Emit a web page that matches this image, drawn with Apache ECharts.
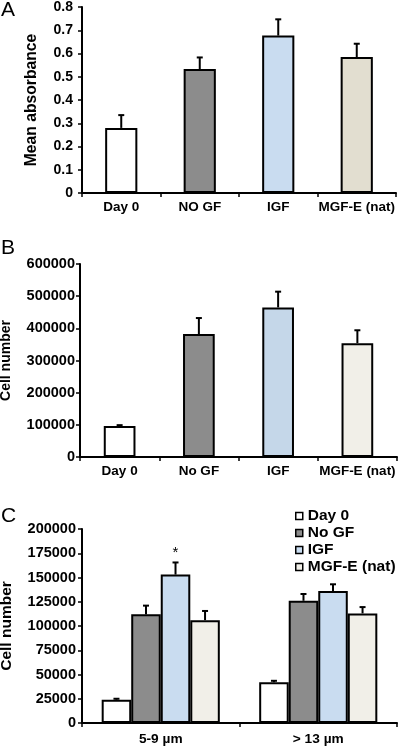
<!DOCTYPE html>
<html>
<head>
<meta charset="utf-8">
<script src="https://cdn.jsdelivr.net/npm/echarts@6/dist/echarts.min.js"></script>
<style>html,body{margin:0;padding:0;background:#fff}#c{width:400px;height:746px}</style>
</head>
<body>
<div id="c"></div>
<script>
// ---- Panel A data ----
const categoriesA = ['Day 0', 'NO GF', 'IGF', 'MGF-E (nat)'];
const absorbance = [0.28, 0.533, 0.677, 0.585];
const absorbanceErr = [0.055, 0.05, 0.07, 0.057];
const colorsA = ['#ffffff', '#8c8c8c', '#c9dcf0', '#e2ded0'];

// ---- Panel B data ----
const categoriesB = ['Day 0', 'No GF', 'IGF', 'MGF-E (nat)'];
const cellsB = [96000, 382000, 465000, 354000];
const cellsBErr = [3000, 50000, 49000, 40000];
const colorsB = ['#ffffff', '#8c8c8c', '#c5d7e9', '#f1efe8'];

// ---- Panel C data ----
const sizeCats = ['5-9 µm', '> 13 µm'];
const cSeriesNames = ['Day 0', 'No GF', 'IGF', 'MGF-E (nat)'];
const cDay0 = [24000, 42000];
const cDay0Err = [1000, 1500];
const cNoGF = [112000, 126000];
const cNoGFErr = [9000, 7000];
const cIGF = [153000, 136000];
const cIGFErr = [12500, 7000];
const cMGF = [106000, 113000];
const cMGFErr = [9500, 6500];
const cSig = [['', ''], ['', ''], ['*', ''], ['', '']];
const colorsC = ['#ffffff', '#8c8c8c', '#c9dcf0', '#f1efe8'];

const cValues = [cDay0, cNoGF, cIGF, cMGF];
const cErrs = [cDay0Err, cNoGFErr, cIGFErr, cMGFErr];

const FONT = 'Liberation Sans, Arial, sans-serif';
const GAP_C = 0.25;

function errRender(params, api) {
  const i = api.value(0), v = api.value(1), e = api.value(2);
  const p0 = api.coord([i, v]);
  const p1 = api.coord([i, v + e]);
  const cap = 3;
  return {
    type: 'group',
    children: [
      { type: 'line', shape: { x1: p0[0], y1: p0[1], x2: p1[0], y2: p1[1] }, style: { stroke: '#000', lineWidth: 2 } },
      { type: 'line', shape: { x1: p1[0] - cap, y1: p1[1], x2: p1[0] + cap, y2: p1[1] }, style: { stroke: '#000', lineWidth: 2 } }
    ]
  };
}

function errRenderGrouped(k) {
  return function (params, api) {
    const i = api.value(0), v = api.value(1), e = api.value(2);
    const band = api.size([1, 0])[0];
    const total = band * (1 - GAP_C);
    const w = total / 4;
    const p0 = api.coord([i, v]);
    const p1 = api.coord([i, v + e]);
    const x = p0[0] - total / 2 + w * (k + 0.5);
    const cap = 3;
    const children = [
      { type: 'line', shape: { x1: x, y1: p0[1], x2: x, y2: p1[1] }, style: { stroke: '#000', lineWidth: 2 } },
      { type: 'line', shape: { x1: x - cap, y1: p1[1], x2: x + cap, y2: p1[1] }, style: { stroke: '#000', lineWidth: 2 } }
    ];
    const sig = cSig[k][i];
    if (sig) {
      children.push({ type: 'text', x: x, y: p1[1] - 2, style: { text: sig, fill: '#000', font: '15px ' + FONT, textAlign: 'center', textVerticalAlign: 'bottom' } });
    }
    return { type: 'group', children: children };
  };
}

const axisLineStyle = { show: true, lineStyle: { color: '#000', width: 2 } };
const tickStyle = { show: true, length: 4, lineStyle: { color: '#000', width: 1.5 } };

function xAxis(gridIndex, data, margin, size) {
  return {
    type: 'category', gridIndex: gridIndex, data: data,
    axisLine: axisLineStyle, axisTick: tickStyle,
    axisLabel: { color: '#000', fontFamily: FONT, fontWeight: 'bold', fontSize: size, margin: margin, interval: 0 }
  };
}
function yAxis(gridIndex, max, interval, name, nameSize, nameGap, labelSize, margin) {
  return {
    type: 'value', gridIndex: gridIndex, min: 0, max: max, interval: interval,
    name: name, nameLocation: 'middle', nameGap: nameGap,
    nameTextStyle: { color: '#000', fontFamily: FONT, fontWeight: 'bold', fontSize: nameSize },
    axisLine: axisLineStyle, axisTick: tickStyle, splitLine: { show: false },
    axisLabel: { color: '#000', fontFamily: FONT, fontWeight: 'bold', fontSize: labelSize, margin: margin, formatter: v => String(v) }
  };
}

const barBorder = { borderColor: '#000', borderWidth: 2 };

const series = [
  {
    name: 'absorbance', type: 'bar', xAxisIndex: 0, yAxisIndex: 0, barWidth: '41%',
    data: absorbance.map((v, i) => ({ value: v, itemStyle: Object.assign({ color: colorsA[i] }, barBorder) }))
  },
  {
    name: 'absorbanceErr', type: 'custom', xAxisIndex: 0, yAxisIndex: 0, z: 5,
    renderItem: errRender, encode: { x: 0, y: 1 },
    data: absorbance.map((v, i) => [i, v, absorbanceErr[i]])
  },
  {
    name: 'cellsB', type: 'bar', xAxisIndex: 1, yAxisIndex: 1, barWidth: '40%',
    data: cellsB.map((v, i) => ({ value: v, itemStyle: Object.assign({ color: colorsB[i] }, barBorder) }))
  },
  {
    name: 'cellsBErr', type: 'custom', xAxisIndex: 1, yAxisIndex: 1, z: 5,
    renderItem: errRender, encode: { x: 0, y: 1 },
    data: cellsB.map((v, i) => [i, v, cellsBErr[i]])
  }
];

cSeriesNames.forEach((nm, k) => {
  series.push({
    name: nm, type: 'bar', xAxisIndex: 2, yAxisIndex: 2,
    barGap: '0%', barCategoryGap: (GAP_C * 100) + '%',
    itemStyle: Object.assign({ color: colorsC[k] }, barBorder),
    data: cValues[k]
  });
});
cSeriesNames.forEach((nm, k) => {
  series.push({
    name: nm + ' err', type: 'custom', xAxisIndex: 2, yAxisIndex: 2, z: 5,
    renderItem: errRenderGrouped(k), encode: { x: 0, y: 1 },
    data: cValues[k].map((v, i) => [i, v, cErrs[k][i]])
  });
});

const option = {
  backgroundColor: '#fff',
  animation: false,
  title: [
    { text: 'A', left: 1, top: 0, padding: 0, textStyle: { fontFamily: FONT, fontWeight: 'normal', fontSize: 21, color: '#000' } },
    { text: 'B', left: 1, top: 238, padding: 0, textStyle: { fontFamily: FONT, fontWeight: 'normal', fontSize: 21, color: '#000' } },
    { text: 'C', left: 1, top: 506, padding: 0, textStyle: { fontFamily: FONT, fontWeight: 'normal', fontSize: 21, color: '#000' } }
  ],
  legend: {
    data: cSeriesNames, orient: 'vertical', left: 295, top: 508, padding: 0,
    icon: 'rect', itemWidth: 7, itemHeight: 7, itemGap: 1,
    itemStyle: { borderColor: '#000', borderWidth: 1.5 },
    textStyle: { color: '#000', fontFamily: FONT, fontWeight: 'bold', fontSize: 15.5 }
  },
  grid: [
    { left: 82, top: 7, width: 314, height: 186, outerBoundsMode: 'none', containLabel: false },
    { left: 80, top: 264, width: 317, height: 193, outerBoundsMode: 'none', containLabel: false },
    { left: 82, top: 529, width: 315, height: 194, outerBoundsMode: 'none', containLabel: false }
  ],
  xAxis: [
    xAxis(0, categoriesA, 7, 13.5),
    xAxis(1, categoriesB, 7, 13.5),
    xAxis(2, sizeCats, 9, 13.7)
  ],
  yAxis: [
    yAxis(0, 0.8, 0.1, 'Mean absorbance', 15.7, 42, 14, 9),
    yAxis(1, 600000, 100000, 'Cell number', 14, 67, 14.5, 5),
    yAxis(2, 200000, 25000, 'Cell number', 15.5, 67, 14.5, 6)
  ],
  series: series
};

const chart = echarts.init(document.getElementById('c'), null, { renderer: 'canvas' });
chart.setOption(option);
</script>
</body>
</html>
